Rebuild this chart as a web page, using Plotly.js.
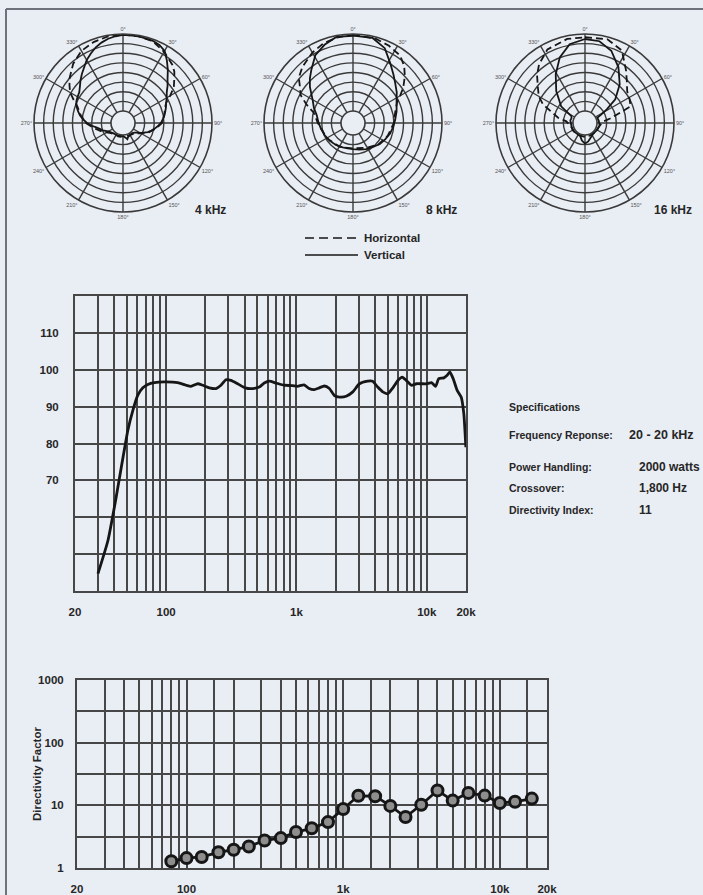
<!DOCTYPE html>
<html>
<head>
<meta charset="utf-8">
<script src="https://cdn.plot.ly/plotly-3.0.1.min.js"></script>
<style>
html,body{margin:0;padding:0;background:#e9edf4;}
#chart{width:703px;height:895px;}
</style>
</head>
<body>
<div id="chart"></div>
<script>
// ---------- Data ----------
// Frequency response (Hz, dB)
const freqHz = [30, 35.8, 41, 45.8, 50.9, 55.6, 60.7, 66.3, 72.4, 81.4, 97, 122.8, 142.3, 155.4, 174.8, 191, 214.7, 241.5, 263.6, 288, 314.6, 353.7, 404, 460, 518, 566.5, 619.6, 696.7, 803.5, 930, 1018, 1145, 1252, 1369, 1497, 1637, 1789, 1957, 2140, 2407, 2707, 3044, 3519, 3846, 4204, 4596, 5025, 5494, 6007, 6487, 6964, 7616, 8327, 9104, 9954, 10883, 11690, 12370, 13520, 14340, 15030, 15940, 17110, 18360, 19240, 19950];
const splDb = [44.7, 53.7, 64.6, 74.5, 83.6, 89, 93.1, 95.1, 96, 96.5, 96.7, 96.5, 95.8, 95.5, 96.2, 95.8, 95.1, 94.9, 95.8, 97.3, 97.1, 96.2, 95.1, 94.9, 95.3, 96.4, 96.9, 96.4, 95.8, 95.7, 95.5, 95.9, 94.9, 94.6, 95.1, 95.6, 94.9, 93, 92.6, 92.8, 94, 96.2, 96.9, 96.9, 95.3, 94, 93.5, 95.1, 97.1, 98, 97.1, 95.8, 96.2, 96.2, 96.2, 96.5, 95.5, 97.6, 97.8, 98.5, 99.4, 97.6, 94.4, 92.6, 88.1, 79];

// Directivity factor (1/3 octave)
const dirFreq = [80, 100, 125, 160, 200, 250, 315, 400, 500, 630, 800, 1000, 1250, 1600, 2000, 2500, 3150, 4000, 5000, 6300, 8000, 10000, 12500, 16000];
const dirQ = [1.28, 1.44, 1.5, 1.78, 1.96, 2.2, 2.75, 3.0, 3.75, 4.3, 5.4, 8.7, 14.2, 14, 9.8, 6.5, 10.2, 17.3, 11.9, 15.8, 14.3, 10.9, 11.4, 12.8];

// Axis tick labels
const freqTickVals = [20, 100, 1000, 10000, 20000];
const freqTickText = ['20', '100', '1k', '10k', '20k'];
const freqMinorUpper = [30,40,50,60,70,80,90,200,300,400,500,600,700,800,900,2000,3000,4000,5000,6000,7000,8000,9000];
const freqMinorLower = [30,40,50,60,70,80,90,150,200,300,400,500,600,700,800,900,1500,2000,3000,4000,5000,6000,7000,8000,9000,15000];
const splTickVals = [70, 80, 90, 100, 110];
const splMinor = [50, 60];
const dirTickVals = [1, 10, 100, 1000];
const dirTickText = ['1', '10', '100', '1000'];
const dirMinor = [3.162, 31.62, 316.2];

// Polar patterns (degrees, dB)
const pol4Vtheta = [0,10,20,25,30,35,40,45,50,55,60,65,70,75,80,85,90,95,100,105,110,115,120,125,130,140,150,160,165,170,180,190,200,210,220,230,240,250,255,260,265,270,275,280,285,290,295,300,305,310,315,320,325,330,335,340,345,350,355,360];
const pol4Vdb = [-0.5,-0.4,-0.8,-1.5,-3,-6.5,-10,-13.5,-16,-18.5,-20,-21.5,-22.5,-23.5,-24.5,-25.5,-26.5,-28,-29.5,-31,-32.5,-34.5,-36,-37.5,-38.5,-39.2,-39,-38.5,-37.5,-38.5,-39.5,-39,-38.8,-39.2,-39,-38.5,-37.5,-35,-34,-32.5,-30,-27.5,-25.5,-23.5,-22,-20.5,-19.5,-19,-18.5,-17,-15,-13,-11,-8.5,-6.5,-4.5,-3,-1.8,-1,-0.5];
const pol4Htheta = [0,10,20,30,40,45,50,55,60,65,70,80,90,100,110,120,130,150,180,210,230,240,250,260,270,280,290,295,300,305,310,320,330,340,350,360];
const pol4Hdb = [-0.3,-0.5,-1,-3.5,-6.5,-8.5,-11.5,-14,-18,-21.5,-23,-24.5,-26,-29,-32,-35.5,-38,-39,-39.3,-39,-38,-36.5,-34,-31,-27,-24,-21,-18,-14.5,-12.3,-10,-6,-3,-1.5,-0.6,-0.3];

const pol8Vtheta = [0,13,23,32,40,47,55,62,75,86,96,106,117,128,140,153,166,180,192,203,218,233,247,260,271,282,291,300,310,316,322,331,340,349,360];
const pol8Vdb = [-0.9,-0.9,-4,-9.7,-13.5,-16.2,-18.5,-20.6,-22.8,-24.3,-25.3,-26.2,-27.5,-28.5,-30,-31,-32,-32.7,-32.8,-32.5,-31.8,-31,-30.2,-29.3,-28.3,-27,-24.5,-22,-17,-14,-11.1,-5.9,-3,-0.7,-0.9];
const pol8Htheta = [0,15,25,35,42,48,55,60,65,75,90,110,130,150,180,210,240,270,285,292,298,304,310,318,330,340,350,360];
const pol8Hdb = [-0.5,-0.8,-2,-3.5,-6.5,-10,-14.4,-18,-21,-23.5,-25,-27,-29,-31.5,-33,-32,-30.5,-28,-25,-20,-15.5,-13,-9.5,-7,-4,-2,-1,-0.5];

const pol16Vtheta = [0,10,20,31,42,52,58,63,67,80,100,120,140,160,170,180,190,200,220,240,260,280,290,297,305,318,329,339,349,360];
const pol16Vdb = [-2.6,-3.1,-6.3,-12.5,-19.3,-26.3,-32.9,-37,-39.3,-39,-38.5,-39,-39.3,-38,-36.5,-35.5,-37,-39,-39.3,-38.8,-39,-38.5,-38.8,-38.3,-31.1,-23.9,-16.7,-9.7,-4.5,-2.6];
const pol16Htheta = [0,15,27,38,45,53,62,70,75,80,85,100,130,160,180,200,230,260,275,281,287,294,300,307,315,322,333,348,360];
const pol16Hdb = [-1.7,-1.2,-4,-11.6,-15.5,-18.8,-20,-21,-29,-33,-36.5,-38.5,-39,-39.2,-39,-39.2,-39,-38.5,-36.5,-32,-28.8,-22.3,-18.5,-15.6,-11,-7.5,-3.3,-1.6,-1.7];

const angleVals = [0,30,60,90,120,150,180,210,240,270,300,330];
const angleText = angleVals.map(a => a + '°');
const ringVals = [-35,-30,-25,-20,-15,-10,-5];

// ---------- Styling helpers ----------
const W = 703, H = 895;
const px = x => x / W;
const py = y => 1 - y / H;
const bg = '#e9edf4';
const gridC = '#474747';
const inkC = '#161616';
const textC = '#262626';
const FONT = 'Liberation Sans, Arial, sans-serif';

function polarLayout(cx, cy, r) {
  return {
    domain: {x: [px(cx - r), px(cx + r)], y: [py(cy + r), py(cy - r)]},
    hole: 0.135,
    bgcolor: 'rgba(0,0,0,0)',
    radialaxis: {range: [-40, 0], tickvals: ringVals, showticklabels: false, ticks: '',
      showline: false, gridcolor: '#3a3a3a', gridwidth: 1.4},
    angularaxis: {rotation: 90, direction: 'clockwise', tickvals: angleVals, ticktext: angleText,
      ticks: '', showline: true, linecolor: '#3a3a3a', linewidth: 1.6, gridcolor: '#3a3a3a', gridwidth: 1.4,
      tickfont: {size: 5.5, color: '#555', family: FONT}}
  };
}
function polTrace(theta, r, sub, dashed, name) {
  return {type: 'scatterpolar', mode: 'lines', theta: theta, r: r, subplot: sub, name: name,
    showlegend: false, line: {color: inkC, width: 1.8, dash: dashed ? '7px,4px' : 'solid'}};
}

const traces = [
  polTrace(pol4Vtheta, pol4Vdb, 'polar', false, 'Vertical 4 kHz'),
  polTrace(pol4Htheta, pol4Hdb, 'polar', true, 'Horizontal 4 kHz'),
  polTrace(pol8Vtheta, pol8Vdb, 'polar2', false, 'Vertical 8 kHz'),
  polTrace(pol8Htheta, pol8Hdb, 'polar2', true, 'Horizontal 8 kHz'),
  polTrace(pol16Vtheta, pol16Vdb, 'polar3', false, 'Vertical 16 kHz'),
  polTrace(pol16Htheta, pol16Hdb, 'polar3', true, 'Horizontal 16 kHz'),
  {type: 'scatter', mode: 'lines', x: freqHz, y: splDb, xaxis: 'x', yaxis: 'y', name: 'Frequency response',
    showlegend: false, line: {color: inkC, width: 2.8, shape: 'spline', smoothing: 0.5}},
  {type: 'scatter', mode: 'lines+markers', x: dirFreq, y: dirQ, xaxis: 'x2', yaxis: 'y2', name: 'Directivity Factor',
    showlegend: false, line: {color: inkC, width: 2.8},
    marker: {symbol: 'circle', size: 11, color: '#8e8e8e', line: {color: inkC, width: 3}}}
];

const tickFont = {family: FONT, size: 11.5, color: textC, weight: 'bold'};
function xAxisCommon(domain, anchor, minor) {
  return {type: 'log', range: [Math.log10(20), Math.log10(20000)], domain: domain, anchor: anchor,
    tickmode: 'array', tickvals: freqTickVals, ticktext: freqTickText, ticks: '', ticklabelstandoff: 9,
    showgrid: true, gridcolor: gridC, gridwidth: 2, zeroline: false,
    minor: {tickvals: minor, showgrid: true, gridcolor: gridC, gridwidth: 2, ticks: ''},
    showline: true, mirror: true, linecolor: gridC, linewidth: 2, tickfont: tickFont, fixedrange: true};
}

const layout = {
  width: W, height: H,
  margin: {l: 0, r: 0, t: 0, b: 0},
  paper_bgcolor: bg, plot_bgcolor: bg,
  showlegend: false,
  font: {family: FONT, color: textC},
  polar: polarLayout(123, 123, 89),
  polar2: polarLayout(353, 123, 89),
  polar3: polarLayout(585, 123, 89),
  xaxis: xAxisCommon([px(75), px(466)], 'y', freqMinorUpper),
  yaxis: {range: [40, 120], domain: [py(591), py(296)], anchor: 'x', tickmode: 'array', tickvals: splTickVals,
    ticks: '', ticklabelstandoff: 12, showgrid: true, gridcolor: gridC, gridwidth: 2, zeroline: false,
    minor: {tickvals: splMinor, showgrid: true, gridcolor: gridC, gridwidth: 2, ticks: ''},
    showline: true, mirror: true, linecolor: gridC, linewidth: 2, tickfont: tickFont},
  xaxis2: xAxisCommon([px(77), px(547)], 'y2', freqMinorLower),
  yaxis2: {type: 'log', range: [0, 3], domain: [py(868), py(680)], anchor: 'x2', tickmode: 'array',
    tickvals: dirTickVals, ticktext: dirTickText, ticks: '', ticklabelstandoff: 9,
    showgrid: true, gridcolor: gridC, gridwidth: 2, zeroline: false,
    minor: {tickvals: dirMinor, showgrid: true, gridcolor: gridC, gridwidth: 2, ticks: ''},
    showline: true, mirror: true, linecolor: gridC, linewidth: 2, tickfont: tickFont},
  shapes: [
    {type: 'line', xref: 'paper', yref: 'paper', x0: px(6), x1: 1, y0: py(9), y1: py(9), line: {color: '#6e727a', width: 2}},
    {type: 'line', xref: 'paper', yref: 'paper', x0: px(6), x1: px(6), y0: py(9), y1: 0, line: {color: '#6e727a', width: 2}},
    {type: 'line', xref: 'paper', yref: 'paper', x0: px(305), x1: px(358), y0: py(238), y1: py(238), line: {color: inkC, width: 1.5, dash: '9px,5px'}},
    {type: 'line', xref: 'paper', yref: 'paper', x0: px(305), x1: px(358), y0: py(255), y1: py(255), line: {color: inkC, width: 1.5}}
  ],
  annotations: []
};

function note(text, x, y, anchor, size, extra) {
  layout.annotations.push(Object.assign({text: text, xref: 'paper', yref: 'paper', x: px(x), y: py(y),
    xanchor: anchor, yanchor: 'middle', showarrow: false,
    font: {family: FONT, size: size, color: textC, weight: 'bold'}}, extra || {}));
}
note('4 kHz', 211, 210, 'center', 12);
note('8 kHz', 442, 210, 'center', 12);
note('16 kHz', 673, 210, 'center', 12);
note('Horizontal', 362, 238, 'left', 11.5);
note('Vertical', 362, 255, 'left', 11.5);
note('Specifications', 507, 407, 'left', 10.5);
note('Frequency Reponse:', 507, 435, 'left', 10.5);
note('20 - 20 kHz', 627, 435, 'left', 12.5);
note('Power Handling:', 507, 467, 'left', 10.5);
note('2000 watts', 637, 467, 'left', 12);
note('Crossover:', 507, 488, 'left', 10.5);
note('1,800 Hz', 637, 488, 'left', 12);
note('Directivity Index:', 507, 510, 'left', 10.5);
note('11', 637, 510, 'left', 12);
note('Directivity Factor', 37, 774, 'center', 11.5, {textangle: -90});

Plotly.newPlot('chart', traces, layout, {staticPlot: true, displayModeBar: false});
</script>
</body>
</html>
